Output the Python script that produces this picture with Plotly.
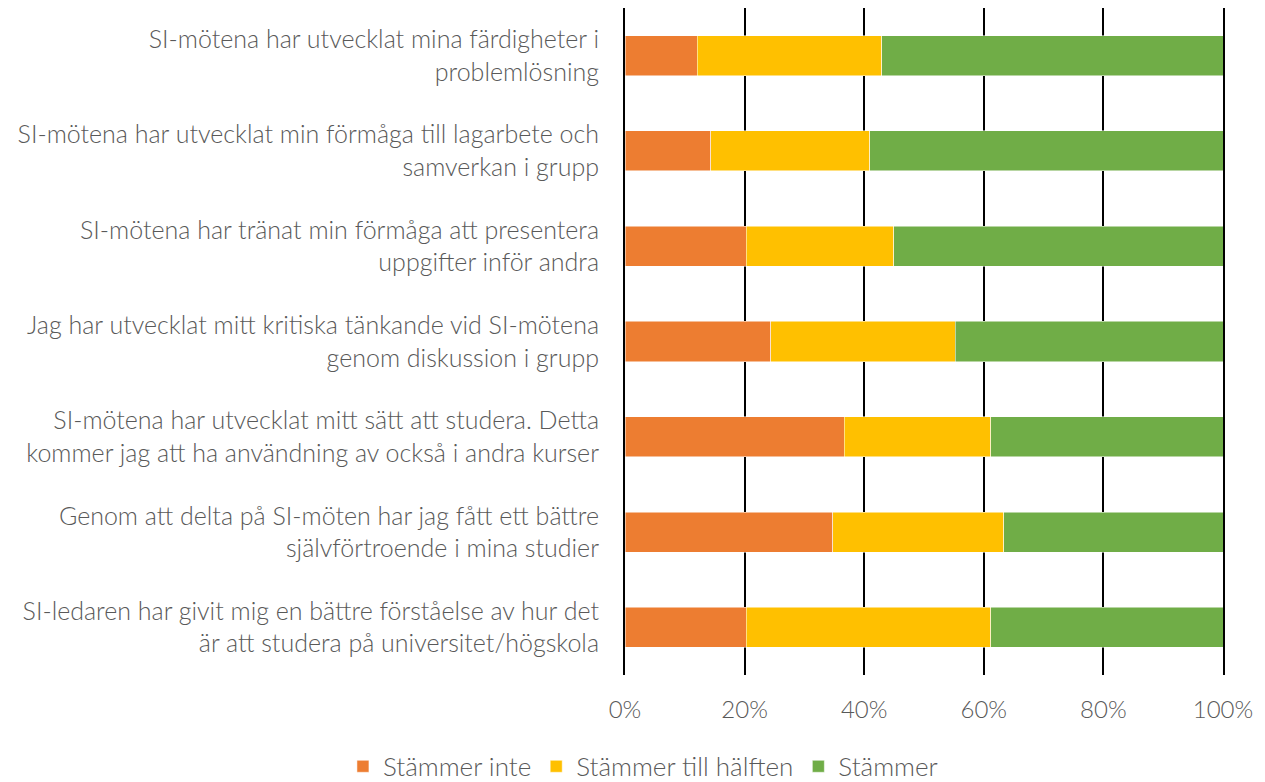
import plotly.graph_objects as go

# survey statements (top to bottom as in the chart)
statements = [
    'SI-mötena har utvecklat mina färdigheter i<br>problemlösning',
    'SI-mötena har utvecklat min förmåga till lagarbete och<br>samverkan i grupp',
    'SI-mötena har tränat min förmåga att presentera<br>uppgifter inför andra',
    'Jag har utvecklat mitt kritiska tänkande vid SI-mötena<br>genom diskussion i grupp',
    'SI-mötena har utvecklat mitt sätt att studera. Detta<br>kommer jag att ha användning av också i andra kurser',
    'Genom att delta på SI-möten har jag fått ett bättre<br>självförtroende i mina studier',
    'SI-ledaren har givit mig en bättre förståelse av hur det<br>är att studera på universitet/högskola',
]

stammer_inte = [12.1, 14.3, 20.3, 24.4, 36.7, 34.7, 20.3]
stammer_halften = [30.8, 26.6, 24.6, 30.8, 24.5, 28.6, 40.9]
stammer = [57.1, 59.1, 55.1, 44.8, 38.8, 36.7, 38.8]

ticks = [0, 20, 40, 60, 80, 100]
tick_labels = ['0%', '20%', '40%', '60%', '80%', '100%']

font = "Lato, sans-serif"
grey = '#595959'

fig = go.Figure()
for name, vals, col in [
    ('Stämmer inte', stammer_inte, '#ED7D31'),
    ('Stämmer till hälften', stammer_halften, '#FFC000'),
    ('Stämmer', stammer, '#70AD47'),
]:
    fig.add_trace(go.Bar(
        y=statements, x=vals, name=name, orientation='h',
        marker=dict(color=col, line=dict(color='white', width=0.5)),
    ))

# page body has an 8px margin, so margins are shifted to compensate
fig.update_layout(
    barmode='stack',
    barnorm='percent',
    bargap=0.58,
    width=1265, height=782,
    margin=dict(l=617, r=50, t=0, b=110),
    paper_bgcolor='white', plot_bgcolor='white',
    font=dict(family=font, size=24, color=grey, weight=300),
    showlegend=True,
    legend=dict(orientation='h', x=0.03, xanchor='center',
                y=-0.137, yanchor='middle',
                font=dict(size=26, color=grey, weight=300),
                traceorder='normal'),
)
fig.update_xaxes(range=[0, 100], tickvals=ticks, ticktext=tick_labels,
                 showgrid=True, gridcolor='black', gridwidth=2,
                 zeroline=False, showline=False, ticks='', ticklabelstandoff=18,
                 automargin=False, fixedrange=True)
fig.update_yaxes(autorange='reversed', showgrid=False, ticks='',
                 showline=True, mirror=True, linecolor='black', linewidth=2,
                 tickfont=dict(size=25), ticklabelstandoff=19,
                 automargin=False, fixedrange=True)

fig.write_html("out.html")
